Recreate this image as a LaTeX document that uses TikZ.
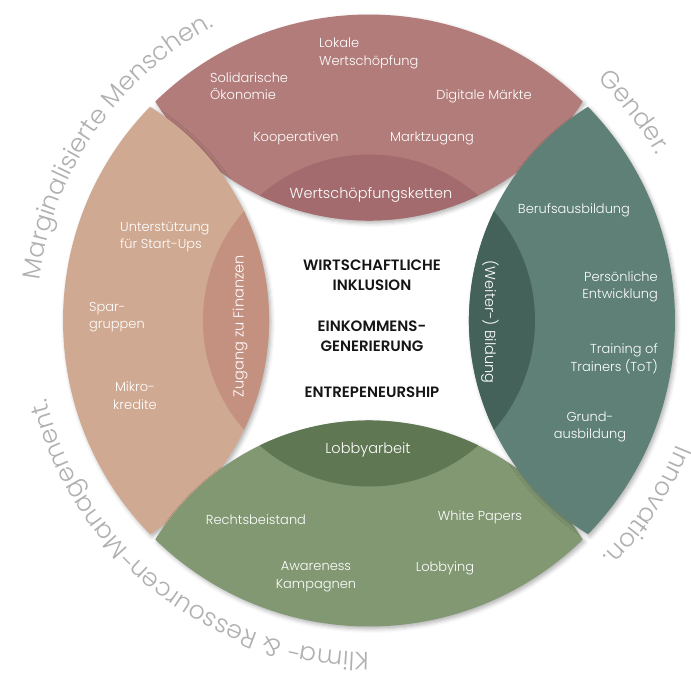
\documentclass[tikz,border=0pt]{standalone}
\usepackage{fontspec}
\usetikzlibrary{decorations.text,shadows.blur}
\IfFontExistsTF{Poppins Light}{\newfontfamily\lightf{Poppins Light}}{\newfontfamily\lightf{Poppins}}
\IfFontExistsTF{Poppins SemiBold}{\newfontfamily\boldf{Poppins SemiBold}}{\newfontfamily\boldf{Poppins}[UprightFont=*-Bold]}
\definecolor{ptop}{HTML}{B27C7A}
\definecolor{ptopd}{HTML}{A36B6D}
\definecolor{pleft}{HTML}{CFA991}
\definecolor{pleftd}{HTML}{C4907F}
\definecolor{pright}{HTML}{5E8077}
\definecolor{prightd}{HTML}{45625A}
\definecolor{pbot}{HTML}{819873}
\definecolor{pbotd}{HTML}{5F7752}
\definecolor{ringgray}{HTML}{B0B0B0}
\definecolor{centertext}{HTML}{151515}
\tikzset{
  lbl/.style={text=white, font=\lightf\fontsize{13}{17.5}\selectfont, align=center, inner sep=0pt},
  lbll/.style={lbl, align=left},
  lblr/.style={lbl, align=right},
  inlbl/.style={text=white, font=\lightf\fontsize{14.5}{17}\selectfont, inner sep=0pt},
  ctr/.style={text=centertext, font=\boldf\fontsize{15}{20}\selectfont, align=center, inner sep=0pt},
  ring/.style={decorate, decoration={text along path, text align=left, text color=ringgray}},
  petalshadow/.style={blur shadow={shadow xshift=2pt, shadow yshift=-2.5pt, shadow blur radius=4pt, shadow opacity=30}}
}
\newcommand\ringfont{\lightf\fontsize{25}{25}\selectfont}
\begin{document}
\begin{tikzpicture}[x=1pt,y=1pt]
\useasboundingbox (-369,-354.5) rectangle (322,320.5);
% petals
\foreach \a/\col/\dk in {90/ptop/ptopd, 180/pleft/pleftd, 270/pbot/pbotd, 0/pright/prightd}{
  \fill[\col, petalshadow] ({\a-44.3}:306) arc[start angle={\a-44.3}, end angle={\a+44.3}, radius=306]
      arc[start angle={\a-238.22}, end angle={\a-121.78}, radius=251.4] -- cycle;
  \begin{scope}
    \clip ({\a-44.3}:306) arc[start angle={\a-44.3}, end angle={\a+44.3}, radius=306]
      arc[start angle={\a-238.22}, end angle={\a-121.78}, radius=251.4] -- cycle;
    \fill[\dk] (0,0) circle[radius=166];
  \end{scope}
}
% ring texts
\path[ring, decoration={text={|\ringfont|Marginalisierte Menschen.}}]
  (173:332) arc[start angle=173, end angle=95, radius=332];
\path[ring, decoration={text={|\ringfont|Gender.}}]
  (46.5:332) arc[start angle=46.5, end angle=10, radius=332];
\path[ring, decoration={text={|\ringfont|Innovation.}}]
  (-22:332) arc[start angle=-22, end angle=-70, radius=332];
\path[ring, decoration={text={|\ringfont|Klima- {\&} Ressourcen-Management.}}]
  (-90:332) arc[start angle=-90, end angle=-178, radius=332];
% top petal labels
\node[lbll, anchor=west] (lok) at (-50,267) {Lokale\\Wertschöpfung};
\node[lbll, anchor=west] (sol) at (-159,234.5) {Solidarische\\Ökonomie};
\node[lbl] (dig) at (115,224.5) {Digitale Märkte};
\node[lbl] (koo) at (-73,182.5) {Kooperativen};
\node[lbl] (mar) at (63,182.5) {Marktzugang};
\node[inlbl] (wsk) at (2,125.5) {Wertschöpfungsketten};
% left petal labels
\node[lbll, anchor=west] (uns) at (-249,83.5) {Unterstützung\\für Start-Ups};
\node[lbll, anchor=west] (spa) at (-280,3.5) {Spar-\\gruppen};
\node[lbl] (mik) at (-234,-75) {Mikro-\\kredite};
\node[inlbl, rotate=90] (zzf) at (-129,-5.5) {Zugang zu Finanzen};
% right petal labels
\node[lbl] (ber) at (205,110.5) {Berufsausbildung};
\node[lblr, anchor=east] (per) at (289,33.5) {Persönliche\\Entwicklung};
\node[lblr, anchor=east] (tot) at (289,-38.5) {Training of\\Trainers (ToT)};
\node[lbl] (gru) at (221,-106.5) {Grund-\\ausbildung};
\node[inlbl, rotate=-90] (wbi) at (121,-1.5) {(Weiter-) Bildung};
% bottom petal labels
\node[inlbl] (lob) at (-1,-129.5) {Lobbyarbeit};
\node[lbl] (rec) at (-113,-199.5) {Rechtsbeistand};
\node[lbl] (whi) at (111,-196.5) {White Papers};
\node[lbl] (awa) at (-53,-256.5) {Awareness\\Kampagnen};
\node[lbl] (lby) at (76,-247.5) {Lobbying};
% center
\node[ctr] (wi) at (3,45.5) {WIRTSCHAFTLICHE\\INKLUSION};
\node[ctr] (eg) at (3,-15.5) {EINKOMMENS-\\GENERIERUNG};
\node[ctr] (en) at (3,-71.5) {ENTREPENEURSHIP};
\end{tikzpicture}
\end{document}
